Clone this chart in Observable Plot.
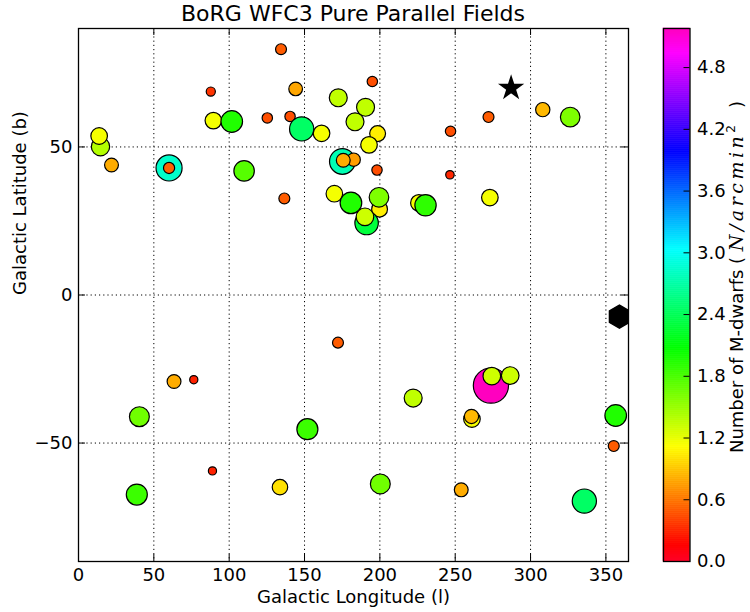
<!DOCTYPE html>
<html><head><meta charset="utf-8">
<script src="https://cdn.jsdelivr.net/npm/d3@7"></script>
<script src="https://cdn.jsdelivr.net/npm/@observablehq/plot@0.6"></script>
<style>
body{margin:0;background:#fff;font-family:"DejaVu Sans",sans-serif;color:#000;}
#wrap{position:relative;width:750px;height:612px;overflow:hidden;background:#fff;}
#title{position:absolute;left:0;top:3px;width:706px;text-align:center;font-size:22px;line-height:22px;}
#main{position:absolute;left:0;top:26px;}
#cb{position:absolute;left:650px;top:26px;}
#cblabel{position:absolute;left:736px;top:277px;transform:translate(-50%,-50%) rotate(-90deg);white-space:nowrap;font-size:18px;line-height:18px;}
#cblabel .m{font-family:"DejaVu Serif",serif;font-style:italic;font-size:19px;letter-spacing:3.5px;}
#cblabel sup{font-size:12px;letter-spacing:0;vertical-align:8px;line-height:0;}
</style></head>
<body><div id="wrap">
<div id="title">BoRG WFC3 Pure Parallel Fields</div>
<div id="main"></div><div id="cb"></div>
<div id="cblabel">Number of M-dwarfs ( <span class="m">N/arcmin</span><sup>2</sup>&nbsp;&nbsp;&nbsp;)</div>
</div>
<script>
// Galactic longitude (l), latitude (b), M-dwarf density (N/arcmin^2)
const lon = [14.6, 13.7, 21.9, 60.1, 60.1, 87.8, 89.5, 101.7, 109.9, 134.4,
             144.1, 125.3, 140.4, 148.1, 161.3, 172.4, 195.0, 190.5, 183.5, 198.5,
             192.8, 175.1, 182.6, 175.7, 198.1, 136.6, 169.8, 180.8, 199.8, 199.4,
             191.2, 190.1, 225.9, 230.3, 246.9, 246.5, 272.1, 308.1, 326.3, 273.0,
             172.2, 63.4, 76.5, 40.4, 151.9, 88.9, 38.7, 133.7, 222.1, 273.7,
             274.3, 286.5, 261.1, 260.8, 356.5, 355.2, 200.3, 254.0, 335.7];
const lat = [50.1, 53.7, 43.9, 42.9, 42.9, 68.7, 58.9, 58.6, 41.9, 83.0,
             69.6, 59.8, 60.3, 56.1, 54.6, 66.6, 72.1, 63.4, 58.5, 54.5,
             50.7, 45.1, 45.7, 45.5, 42.2, 32.6, 34.2, 31.1, 29.0, 33.0,
             24.3, 26.4, 31.1, 30.3, 55.3, 40.6, 60.1, 62.6, 60.1, 32.9,
             -16.1, -29.2, -28.6, -41.1, -45.3, -59.4, -67.4, -64.9, -34.8, -30.6,
             -27.4, -27.2, -41.9, -41.0, -40.7, -51.0, -63.8, -65.8, -69.6];
const dens = [1.40, 1.15, 0.80, 2.84, 0.52, 0.35, 1.15, 1.95, 1.75, 0.50,
              0.78, 0.45, 0.45, 2.45, 1.15, 1.35, 0.45, 1.35, 1.35, 1.05,
              1.15, 2.75, 0.75, 0.80, 0.45, 0.50, 1.15, 1.95, 1.05, 1.60,
              2.30, 1.30, 1.15, 1.90, 0.45, 0.30, 0.50, 0.85, 1.60, 1.15,
              0.50, 0.80, 0.28, 1.65, 1.85, 0.28, 1.85, 1.00, 1.35, 5.18,
              1.30, 1.30, 1.15, 0.85, 1.95, 0.50, 1.65, 0.80, 2.45];
const starLon = [287.1], starLat = [69.9];
const hexLon = [359.0], hexLat = [-7.3];
const xTicks = [0, 50, 100, 150, 200, 250, 300, 350];
const yTicks = [-50, 0, 50];
const cbTicks = [0, 0.6, 1.2, 1.8, 2.4, 3.0, 3.6, 4.2, 4.8];
// gist_rainbow colormap stops
const cmapPos = [0, 0.03, 0.215, 0.4, 0.586, 0.77, 0.954, 1];
const cmapCol = ["rgb(255,0,41)", "rgb(255,0,0)", "rgb(255,255,0)", "rgb(0,255,0)",
                 "rgb(0,255,255)", "rgb(0,0,255)", "rgb(255,0,255)", "rgb(255,0,191)"];
const xLabel = "Galactic Longitude (l)";
const yLabel = "Galactic Latitude (b)";

const cmax = d3.max(dens);
const colorOpts = {type: "linear", domain: cmapPos.map(t => t * cmax), range: cmapCol, interpolate: "rgb"};
const fields = lon.map((l, i) => ({l, b: lat[i], n: dens[i]}));
const star = starLon.map((l, i) => ({l, b: starLat[i]}));
const hex = hexLon.map((l, i) => ({l, b: hexLat[i]}));

const W = 750, H = 586, mL = 78, mR = 122, mT = 2, mB = 51;
const pw = W - mL - mR, ph = H - mT - mB;
const tk = 7;

const main = Plot.plot({
  width: W, height: H, marginLeft: mL, marginRight: mR, marginTop: mT, marginBottom: mB,
  style: {fontFamily: "DejaVu Sans", fontSize: "18px", background: "transparent", overflow: "visible", color: "black"},
  x: {domain: [0, 365], ticks: xTicks, tickSize: 0, tickPadding: 7, label: null},
  y: {domain: [-90, 90], ticks: yTicks, tickSize: 0, tickPadding: 6, label: null},
  color: colorOpts,
  r: {type: "sqrt", domain: [0, cmax], range: [0, 17.6]},
  marks: [
    Plot.ruleX(xTicks, {x: d => d, stroke: "black", strokeWidth: 1, strokeDasharray: "1.2,3"}),
    Plot.ruleY(yTicks, {y: d => d, stroke: "black", strokeWidth: 1, strokeDasharray: "1.2,3"}),
    Plot.dot(fields, {x: "l", y: "b", r: "n", fill: "n", stroke: "black", strokeWidth: 1.2, sort: null}),
    Plot.dot(star, {x: "l", y: "b", symbol: "star", r: 6.8, fill: "black", stroke: "black"}),
    Plot.dot(hex, {x: "l", y: "b", symbol: "hexagon", r: 10, fill: "black", stroke: "black", clip: true}),
    Plot.tickX(xTicks, {x: d => d, insetTop: ph - tk, stroke: "black", strokeWidth: 1}),
    Plot.tickX(xTicks, {x: d => d, insetBottom: ph - tk, stroke: "black", strokeWidth: 1}),
    Plot.tickY(yTicks, {y: d => d, insetRight: pw - tk, stroke: "black", strokeWidth: 1}),
    Plot.tickY(yTicks, {y: d => d, insetLeft: pw - tk, stroke: "black", strokeWidth: 1}),
    Plot.frame({stroke: "black", strokeWidth: 1.3}),
    Plot.text([xLabel], {text: d => d, frameAnchor: "bottom", lineAnchor: "bottom", dy: 41, fontSize: 18}),
    Plot.text([yLabel], {text: d => d, frameAnchor: "left", lineAnchor: "top", rotate: -90, dx: -65, fontSize: 18})
  ]
});
document.getElementById("main").appendChild(main);

const cbN = 266;
const cbSlices = d3.range(cbN).map(i => ({v0: cmax * i / cbN, v1: cmax * (i + 1) / cbN}));
const cbW = 26.5;
const cb = Plot.plot({
  width: 100, height: H, marginLeft: 13, marginRight: 100 - 13 - cbW, marginTop: mT, marginBottom: mB,
  style: {fontFamily: "DejaVu Sans", fontSize: "18px", background: "transparent", overflow: "visible", color: "black"},
  x: {domain: [0, 1], axis: null},
  y: {domain: [0, cmax], ticks: cbTicks, tickFormat: d3.format(".1f"), tickSize: 0, tickPadding: 7, label: null, axis: "right"},
  color: colorOpts,
  marks: [
    Plot.rect(cbSlices, {x1: 0, x2: 1, y1: "v0", y2: "v1", fill: d => (d.v0 + d.v1) / 2, stroke: d => (d.v0 + d.v1) / 2, strokeWidth: 0.6}),
    Plot.tickY(cbTicks, {y: d => d, insetLeft: cbW - 6, stroke: "black", strokeWidth: 1}),
    Plot.frame({stroke: "black", strokeWidth: 1.3})
  ]
});
document.getElementById("cb").appendChild(cb);
</script>
</body></html>
